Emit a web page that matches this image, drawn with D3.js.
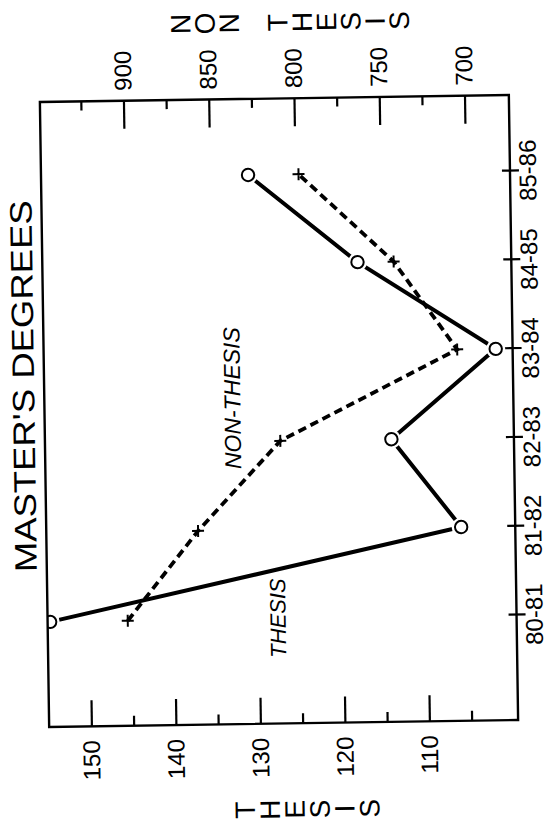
<!DOCTYPE html>
<html><head><meta charset="utf-8">
<script src="https://cdn.jsdelivr.net/npm/d3@7"></script>
<style>body{margin:0;background:#fff} svg{display:block}</style>
</head><body>
<script>
// ---- data ----
const years = ["80-81", "81-82", "82-83", "83-84", "84-85", "85-86"];
const thesis = [154.7, 105.9, 114.0, 101.5, 117.7, 130.5];
const nonThesis = [902, 860, 811, 706.5, 743, 798];
const thesisTicks = [110, 120, 130, 140, 150];
const thesisMinor = [105, 115, 125, 135, 145];
const nonThesisTicks = [700, 750, 800, 850, 900];
const nonThesisMinor = [725, 775, 825, 875, 925];
const titleText = "MASTER'S DEGREES";
const leftTitle = "THESIS";
const rightTitle = "NON THESIS";

// ---- layout (chart is drawn upright, then turned a quarter turn) ----
const W = 625, H = 469;
const FONT = "'Liberation Sans', Arial, Helvetica, sans-serif";
const svg = d3.select("body").append("svg").attr("width", 550).attr("height", 821);
const skew = svg.append("g").attr("transform", "rotate(-0.85,279,411)");
const g = skew.append("g").attr("transform", "translate(44.5,723.5) rotate(-90)");

const x = d3.scalePoint().domain(years).range([105, 549]);
const yT = d3.scaleLinear().domain([155, 99.5]).range([0, H]);
const yN = d3.scaleLinear().domain([949, 674]).range([0, H]);

svg.append("defs").append("clipPath").attr("id", "clip")
  .append("rect").attr("x", 0).attr("y", 0).attr("width", W).attr("height", H);

function styleAxis(sel, size) {
  sel.attr("font-family", FONT).attr("font-size", size);
  sel.select(".domain").remove();
  sel.selectAll(".tick line").attr("stroke", "#000").attr("stroke-width", 2.2);
  sel.selectAll(".tick text").attr("fill", "#000");
}

// thesis axis (left when upright)
g.append("g").call(d3.axisLeft(yT).tickValues(thesisTicks).tickSizeInner(-26).tickSizeOuter(0)
  .tickPadding(14).tickFormat(d3.format("d"))).call(styleAxis, 24);
g.append("g").call(d3.axisLeft(yT).tickValues(thesisMinor).tickSizeInner(-10).tickSizeOuter(0)
  .tickFormat("")).call(styleAxis, 24);

// non-thesis axis (right when upright)
g.append("g").attr("transform", `translate(${W},0)`)
  .call(d3.axisRight(yN).tickValues(nonThesisTicks).tickSizeInner(-28).tickSizeOuter(0)
  .tickPadding(10).tickFormat(d3.format("d"))).call(styleAxis, 24);
g.append("g").attr("transform", `translate(${W},0)`)
  .call(d3.axisRight(yN).tickValues(nonThesisMinor).tickSizeInner(-9).tickSizeOuter(0)
  .tickFormat("")).call(styleAxis, 24);

// year axis (bottom when upright)
const xa = g.append("g").attr("transform", `translate(0,${H})`)
  .call(d3.axisBottom(x).tickSizeInner(9).tickSizeOuter(0).tickPadding(0)).call(styleAxis, 24);
xa.selectAll(".tick line").attr("y1", -8);

// data
const plot = g.append("g").attr("clip-path", "url(#clip)");
const lineT = d3.line().x((d, i) => x(years[i])).y(d => yT(d));
const lineN = d3.line().x((d, i) => x(years[i])).y(d => yN(d));
plot.append("path").datum(nonThesis).attr("d", lineN).attr("fill", "none")
  .attr("stroke", "#000").attr("stroke-width", 3.8).attr("stroke-dasharray", "8.5,5");
plot.append("path").datum(thesis).attr("d", lineT).attr("fill", "none")
  .attr("stroke", "#000").attr("stroke-width", 4);
plot.selectAll("circle.halo").data(thesis).join("circle").attr("class", "halo")
  .attr("cx", (d, i) => x(years[i])).attr("cy", d => yT(d)).attr("r", 9.5).attr("fill", "#fff");
plot.selectAll("circle.mark").data(thesis).join("circle").attr("class", "mark")
  .attr("cx", (d, i) => x(years[i])).attr("cy", d => yT(d)).attr("r", 6.2)
  .attr("fill", "#fff").attr("stroke", "#000").attr("stroke-width", 2);
plot.selectAll("path.plus").data(nonThesis).join("path").attr("class", "plus")
  .attr("d", (d, i) => {
    const cx = x(years[i]), cy = yN(d), p = d3.path();
    p.moveTo(cx - 6, cy); p.lineTo(cx + 6, cy);
    p.moveTo(cx, cy - 6); p.lineTo(cx, cy + 6);
    return p.toString();
  })
  .attr("stroke", "#000").attr("stroke-width", 2).attr("fill", "none");

// frame
g.append("rect").attr("x", 0).attr("y", 0).attr("width", W).attr("height", H)
  .attr("fill", "none").attr("stroke", "#000").attr("stroke-width", 2.4);

// title
g.append("text").attr("x", 341).attr("y", -10).attr("text-anchor", "middle")
  .attr("font-family", FONT).attr("font-size", 31).attr("textLength", 372)
  .attr("lengthAdjust", "spacingAndGlyphs").text(titleText);

// stacked axis titles
g.append("g").selectAll("text").data(leftTitle.split("")).join("text")
  .attr("x", -86).attr("y", (d, i) => 195 + i * 24.9)
  .attr("text-anchor", "middle").attr("dominant-baseline", "central")
  .attr("font-family", FONT).attr("font-size", 28).text(d => d);
g.append("g").selectAll("text").data(rightTitle.split("")).join("text")
  .attr("x", 701).attr("y", (d, i) => 142 + i * 24.3)
  .attr("text-anchor", "middle").attr("dominant-baseline", "central")
  .attr("font-family", FONT).attr("font-size", 28).text(d => d);

// in-plot labels
g.append("text").attr("x", 105.5).attr("y", 238).attr("text-anchor", "middle")
  .attr("font-family", FONT).attr("font-style", "italic").attr("font-size", 22).text("THESIS");
g.append("text").attr("x", 326).attr("y", 196).attr("text-anchor", "middle")
  .attr("font-family", FONT).attr("font-style", "italic").attr("font-size", 23).text("NON-THESIS");
</script>
</body></html>
